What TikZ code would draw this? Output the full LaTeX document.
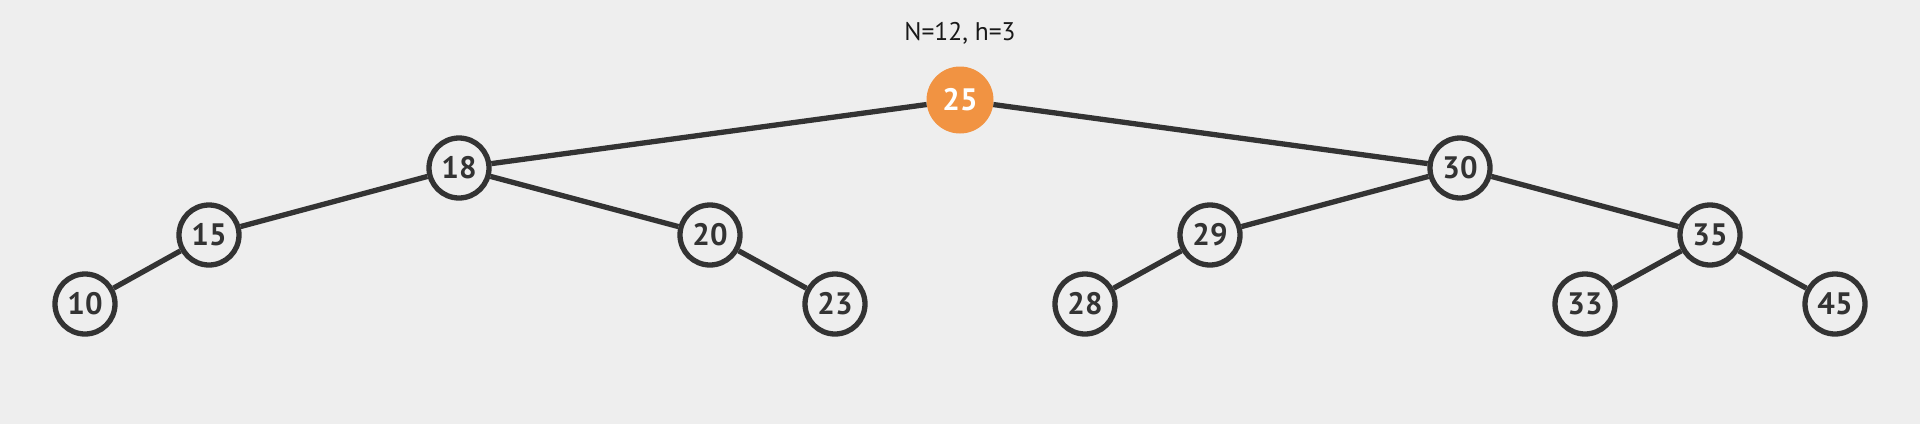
\documentclass[tikz,border=0pt]{standalone}
\usepackage{fontspec}
\setmainfont{PT Sans}
\definecolor{bg}{RGB}{238,238,238}
\definecolor{ink}{RGB}{51,51,51}
\definecolor{hot}{RGB}{241,147,66}
\begin{document}
\begin{tikzpicture}[x=1pt,y=-1pt,
  bst/.style={circle,draw=ink,line width=5.3pt,fill=bg,minimum size=60pt,inner sep=0pt,
    font=\fontsize{31}{31}\selectfont\bfseries,text=ink},
  rootnode/.style={circle,fill=hot,minimum size=67pt,inner sep=0pt,
    font=\fontsize{31}{31}\selectfont\bfseries,text=white},
  edge/.style={draw=ink,line width=5.3pt}]
\fill[bg] (0,0) rectangle (1920,424);
\useasboundingbox (0,0) rectangle (1920,424);
\node[font=\fontsize{25.5}{25.5}\selectfont,text=black!90] (title) at (960,33) {N=12, h=3};
\node[rootnode] (n25) at (960,100) {25};
\node[bst] (n18) at (459,168) {18};
\node[bst] (n30) at (1460,168) {30};
\node[bst] (n15) at (209,235) {15};
\node[bst] (n20) at (710,235) {20};
\node[bst] (n29) at (1210,235) {29};
\node[bst] (n35) at (1710,235) {35};
\node[bst] (n10) at (85,304) {10};
\node[bst] (n23) at (835,304) {23};
\node[bst] (n28) at (1085,304) {28};
\node[bst] (n33) at (1585,304) {33};
\node[bst] (n45) at (1835,304) {45};
\draw[edge] (n25) -- (n18);
\draw[edge] (n25) -- (n30);
\draw[edge] (n18) -- (n15);
\draw[edge] (n18) -- (n20);
\draw[edge] (n15) -- (n10);
\draw[edge] (n20) -- (n23);
\draw[edge] (n30) -- (n29);
\draw[edge] (n30) -- (n35);
\draw[edge] (n29) -- (n28);
\draw[edge] (n35) -- (n33);
\draw[edge] (n35) -- (n45);
\end{tikzpicture}
\end{document}
